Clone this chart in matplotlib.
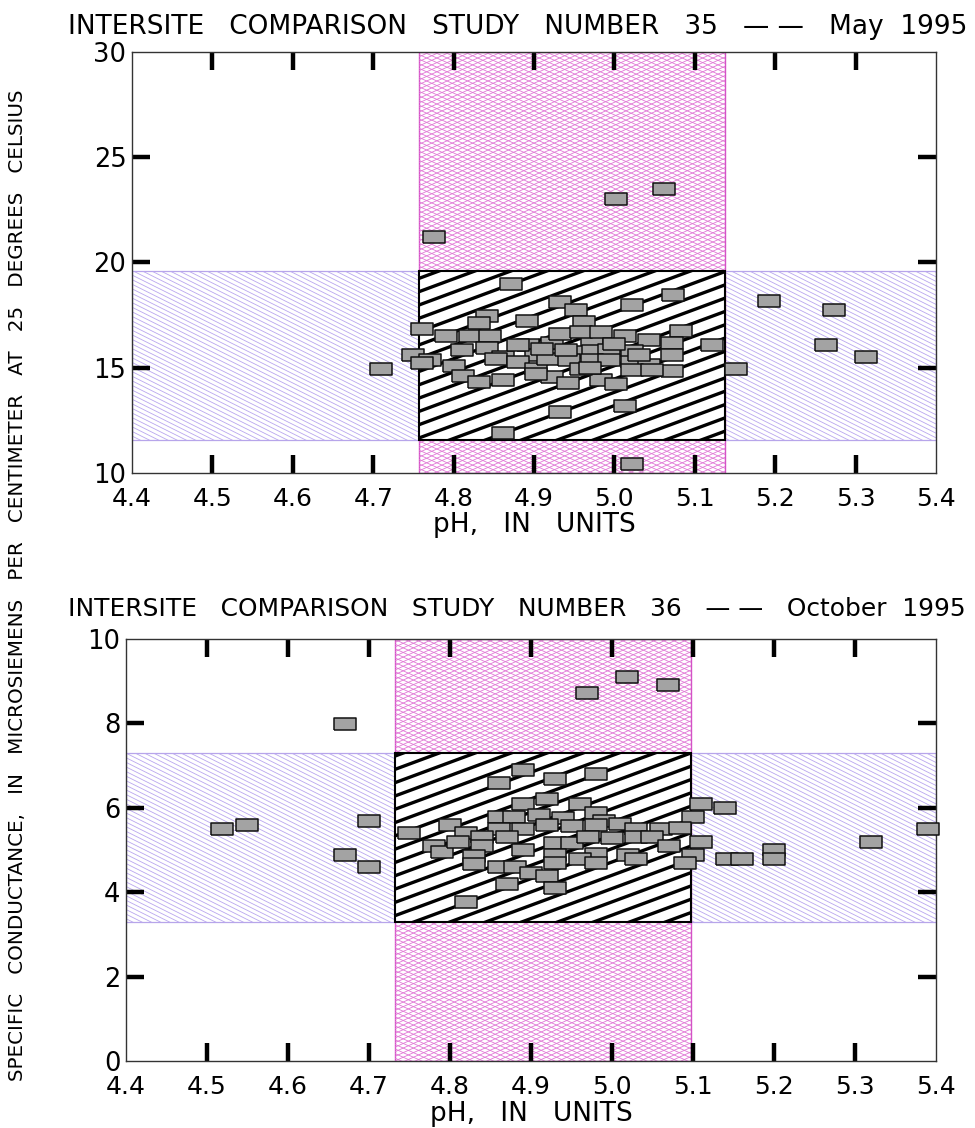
import numpy as np
import matplotlib
matplotlib.use("Agg")
import matplotlib.pyplot as plt
from matplotlib.patches import Rectangle
from matplotlib.collections import LineCollection

# ---------------------------------------------------------------- data
# Study 35 -- May 1995
ph_35 = [4.776, 5.002, 5.062, 5.192, 5.273, 5.263, 5.313, 5.151, 4.710, 5.022,
         4.862, 4.932, 5.013, 4.871, 5.073, 4.932, 4.952, 5.022, 4.841, 4.891,
         4.831, 4.962, 4.761, 5.083, 5.122,
         4.791, 4.821, 4.845, 5.013, 4.972, 5.043, 5.072, 4.922, 4.932, 4.959,
         4.983, 4.892, 4.842, 4.811, 4.750, 4.771, 4.761, 4.862, 4.902, 4.952,
         4.973, 4.993, 5.022, 5.072, 4.800, 4.853, 4.880, 4.902, 4.918, 4.943,
         4.972, 4.993, 5.022, 5.043, 5.072, 4.812, 4.832, 4.862, 4.922, 4.942,
         4.983, 5.002, 4.959, 4.880, 4.903, 5.022, 5.047, 4.970, 4.910, 5.000,
         5.030, 4.940]
sc_35 = [21.2, 23.0, 23.5, 18.15, 17.75, 16.05, 15.5, 14.95, 14.95, 10.4,
         11.9, 12.9, 13.15, 18.95, 18.45, 18.1, 17.75, 17.95, 17.45, 17.2,
         17.1, 17.15, 16.85, 16.75, 16.05,
         16.5, 16.5, 16.5, 16.5, 16.3, 16.3, 16.15, 16.15, 16.6, 16.7,
         16.7, 16.05, 15.95, 15.85, 15.6, 15.35, 15.2, 15.5, 15.6, 15.75,
         15.8, 15.85, 15.8, 15.6, 15.05, 15.4, 15.25, 14.95, 15.4, 15.35,
         15.35, 15.35, 15.25, 15.1, 14.85, 14.6, 14.3, 14.4, 14.55, 14.25,
         14.4, 14.2, 14.95, 16.05, 14.7, 14.9, 14.9, 15.0, 15.9, 16.1,
         15.6, 15.85]
ph_range_35 = (4.757, 5.138)
sc_range_35 = (11.55, 19.6)

# Study 36 -- October 1995
ph_36 = [4.670, 4.519, 4.550, 4.700, 4.670, 4.700, 4.750, 4.969, 5.018, 5.069,
         5.110, 5.140, 5.100, 5.110, 5.100, 5.090, 5.142, 5.160, 5.200, 5.200,
         5.320, 5.390,
         4.890, 4.860, 4.930, 4.980, 4.890, 4.920, 4.960, 4.980, 4.860, 4.879,
         4.910, 4.940, 4.990, 5.010, 4.800, 4.860, 4.890, 4.920, 4.950, 4.980,
         5.030, 5.060, 4.820, 4.780, 4.790, 4.810, 4.840, 4.840, 4.870, 4.890,
         4.930, 4.950, 4.970, 5.000, 5.030, 5.050, 5.070, 4.830, 4.930, 4.980,
         5.020, 5.030, 4.830, 4.860, 4.880, 4.930, 4.960, 4.980, 4.900, 4.920,
         4.870, 4.930, 4.820, 5.084]
sc_36 = [7.99, 5.50, 5.59, 5.69, 4.89, 4.59, 5.40, 8.71, 9.09, 8.90,
         6.09, 5.99, 5.79, 5.19, 4.89, 4.69, 4.79, 4.79, 5.00, 4.79,
         5.19, 5.49,
         6.90, 6.59, 6.69, 6.80, 6.09, 6.20, 6.09, 5.87, 5.79, 5.79,
         5.83, 5.75, 5.69, 5.62, 5.59, 5.51, 5.50, 5.59, 5.57, 5.59,
         5.49, 5.51, 5.41, 5.10, 4.96, 5.20, 5.30, 5.10, 5.32, 5.00,
         5.16, 5.17, 5.30, 5.29, 5.30, 5.30, 5.10, 4.86, 4.88, 4.91,
         4.88, 4.78, 4.67, 4.61, 4.61, 4.69, 4.78, 4.69, 4.45, 4.39,
         4.19, 4.09, 3.78, 5.52]
ph_range_36 = (4.732, 5.097)
sc_range_36 = (3.30, 7.30)

ph_ticks = [4.4, 4.5, 4.6, 4.7, 4.8, 4.9, 5.0, 5.1, 5.2, 5.3, 5.4]
ph_labels = ["4.4", "4.5", "4.6", "4.7", "4.8", "4.9", "5.0", "5.1", "5.2", "5.3", "5.4"]
sc_ticks_35 = [10, 15, 20, 25, 30]
sc_ticks_36 = [0, 2, 4, 6, 8, 10]

title_35 = "INTERSITE   COMPARISON   STUDY   NUMBER   35   \u2014 \u2014   May  1995"
title_36 = "INTERSITE   COMPARISON   STUDY   NUMBER   36   \u2014 \u2014   October  1995"
x_label = "pH,   IN   UNITS"
y_label = ("SPECIFIC   CONDUCTANCE,   IN   MICROSIEMENS   PER   CENTIMETER   "
           "AT   25   DEGREES   CELSIUS")

# ---------------------------------------------------------------- helpers
W_PX, H_PX = 975, 1128
plt.rcParams["font.family"] = ["DejaVu Sans"]
fig = plt.figure(figsize=(W_PX / 100, H_PX / 100), dpi=100)


def hatch(ax, patch, slope, spacing, color, lw, zorder):
    """Parallel lines at a pixel-space slope, clipped to a rectangle."""
    pos = ax.get_position()
    w = pos.width * W_PX
    h = pos.height * H_PX
    lo = min(0.0, -slope * w) - spacing
    hi = h + max(0.0, -slope * w) + spacing
    segs = [[(0.0, c / h), (1.0, (slope * w + c) / h)]
            for c in np.arange(lo, hi, spacing)]
    lc = LineCollection(segs, colors=color, linewidths=lw,
                        transform=ax.transAxes, zorder=zorder)
    ax.add_collection(lc)
    lc.set_clip_path(patch)


rect_marker = [(-1, -0.55), (1, -0.55), (1, 0.55), (-1, 0.55), (-1, -0.55)]


def panel(ax, ph, sc, ph_rng, sc_rng, ylim, yticks):
    ax.set_xlim(4.4, 5.4)
    ax.set_ylim(*ylim)
    x0, x1 = ph_rng
    y0, y1 = sc_rng

    # conductance acceptance band (full width)
    hb = Rectangle((4.4, y0), 1.0, y1 - y0, facecolor="white",
                   edgecolor="#b7a5ea", lw=0.9, zorder=1.0)
    ax.add_patch(hb)
    hatch(ax, hb, -0.5, 4.6, "#b9a6ef", 0.6, 1.05)

    # pH acceptance band (full height)
    vb = Rectangle((x0, ylim[0]), x1 - x0, ylim[1] - ylim[0],
                   facecolor="white", edgecolor="#d452c6", lw=1.0, zorder=1.2)
    ax.add_patch(vb)
    hatch(ax, vb, 0.45, 4.6, "#e176d6", 0.6, 1.25)
    hatch(ax, vb, -0.45, 4.6, "#e176d6", 0.6, 1.25)

    # both criteria met
    box = Rectangle((x0, y0), x1 - x0, y1 - y0, facecolor="white",
                    edgecolor="none", zorder=1.4)
    ax.add_patch(box)
    hatch(ax, box, 0.37, 13.3, "black", 2.4, 1.45)
    ax.add_patch(Rectangle((x0, y0), x1 - x0, y1 - y0, facecolor="none",
                           edgecolor="black", lw=1.5, zorder=1.5))

    ax.plot(ph, sc, ls="none", marker=rect_marker, ms=16.2,
            mfc="#a3a3a3", mec="#111111", mew=1.1, zorder=5, clip_on=False)

    ax.set_xticks(ph_ticks)
    ax.set_xticklabels(ph_labels)
    ax.set_yticks(yticks)
    ax.set_yticklabels([str(t) for t in yticks])
    ax.tick_params(direction="in", length=13, width=3.2, color="black",
                   top=True, right=True, labelsize=18.5, pad=4)
    ax.tick_params(axis="x", pad=10, labelsize=18)
    for tk in (ax.xaxis.get_major_ticks()[0], ax.xaxis.get_major_ticks()[-1],
               ax.yaxis.get_major_ticks()[0], ax.yaxis.get_major_ticks()[-1]):
        tk.tick1line.set_visible(False)
        tk.tick2line.set_visible(False)
    for sp in ax.spines.values():
        sp.set_linewidth(1.0)
        sp.set_color("#333333")
        sp.set_zorder(3)
    ax.set_axisbelow(False)
    ax.set_xlabel(x_label, fontsize=19, labelpad=1)


ax1 = fig.add_axes([132 / W_PX, 1 - 472.8 / H_PX, 804 / W_PX, 421 / H_PX])
ax2 = fig.add_axes([126 / W_PX, 1 - 1061.3 / H_PX, 810 / W_PX, 422.5 / H_PX])

panel(ax1, ph_35, sc_35, ph_range_35, sc_range_35, (10, 30), sc_ticks_35)
panel(ax2, ph_36, sc_36, ph_range_36, sc_range_36, (0, 10), sc_ticks_36)

t1 = fig.text(68 / W_PX, 1 - 14 / H_PX, title_35, fontsize=16, ha="left", va="top")
t2 = fig.text(68 / W_PX, 1 - 597 / H_PX, title_36, fontsize=16, ha="left", va="top")
t3 = fig.text(18 / W_PX, 1 - 585 / H_PX, y_label, fontsize=12.5, rotation=90,
              ha="center", va="center")

# size the long captions to the span they occupy
fig.canvas.draw()
renderer = fig.canvas.get_renderer()
for txt, span, horiz in ((t1, 900, True), (t2, 900, True), (t3, 990, False)):
    bb = txt.get_window_extent(renderer)
    cur = bb.width if horiz else bb.height
    txt.set_fontsize(txt.get_fontsize() * span / cur)

fig.savefig("out.png", dpi=100)
